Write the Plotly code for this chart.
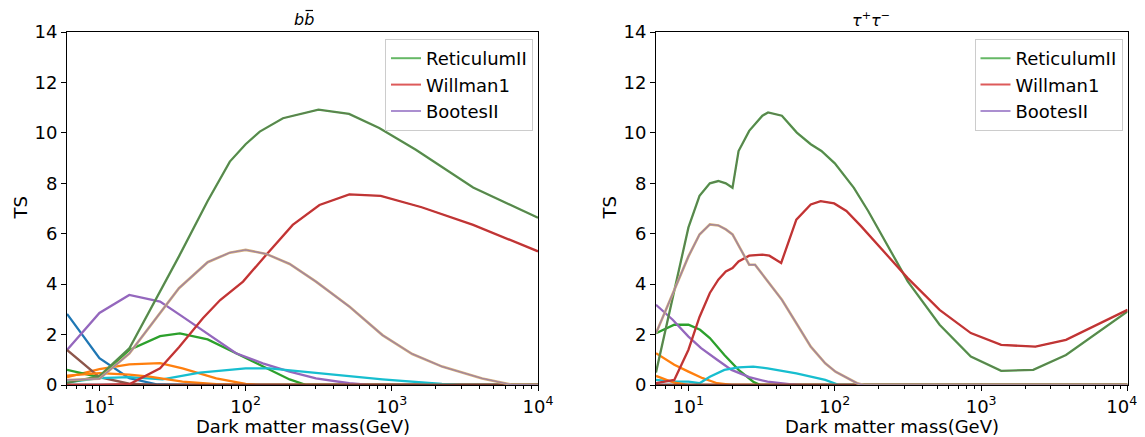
import plotly.graph_objects as go

# ---------------- data: b b-bar channel (left) ----------------
bb_ret_m = [6, 10, 16, 25, 35, 55, 78, 100, 125, 180, 315, 510, 820, 1460, 3600, 10000]
bb_ret_ts = [0.08, 0.35, 1.45, 3.5, 5.1, 7.3, 8.86, 9.55, 10.05, 10.58, 10.92, 10.75, 10.19, 9.33, 7.83, 6.63]

bb_wil_m = [6, 10, 16, 26, 35, 51, 67, 96, 138, 210, 320, 512, 840, 1600, 3600, 10000]
bb_wil_ts = [0.0, 0.0, 0.03, 0.66, 1.5, 2.65, 3.37, 4.1, 5.16, 6.35, 7.14, 7.56, 7.5, 7.05, 6.35, 5.3]

bb_boo_m = [6, 10, 16, 25, 35, 55, 78, 100, 138, 200, 303, 512, 863, 1380, 2210, 4150, 6500, 10000]
bb_boo_ts = [0.2, 0.25, 1.25, 2.7, 3.84, 4.87, 5.25, 5.36, 5.2, 4.8, 4.1, 3.11, 1.98, 1.23, 0.73, 0.26, 0.02, 0.0]

bb_blue_m = [6, 10, 16, 25, 40, 10000]
bb_blue_ts = [2.82, 1.06, 0.27, 0.02, 0.0, 0.0]
bb_orange_m = [6, 10, 16, 26, 37, 63, 100, 125, 10000]
bb_orange_ts = [0.31, 0.63, 0.82, 0.87, 0.66, 0.26, 0.04, 0.0, 0.0]
bb_green_m = [6, 10, 16, 26, 35.5, 55, 86, 131, 200, 260, 10000]
bb_green_ts = [0.6, 0.31, 1.39, 1.94, 2.05, 1.81, 1.26, 0.73, 0.22, 0.0, 0.0]
bb_purple_m = [6, 10, 16, 26, 37, 54, 86, 131, 200, 303, 512, 700, 10000]
bb_purple_ts = [1.39, 2.86, 3.57, 3.31, 2.71, 2.05, 1.26, 0.86, 0.53, 0.26, 0.07, 0.0, 0.0]
bb_brown_m = [6, 10, 16, 25, 10000]
bb_brown_ts = [1.39, 0.31, 0.05, 0.0, 0.0]
bb_cyan_m = [6, 10, 16, 27, 48.6, 100, 146, 303, 863, 2200, 3000, 10000]
bb_cyan_ts = [0.1, 0.27, 0.31, 0.22, 0.49, 0.66, 0.66, 0.49, 0.22, 0.04, 0.0, 0.0]
bb_orange2_m = [6, 10, 16, 22, 37, 63, 100, 10000]
bb_orange2_ts = [0.37, 0.47, 0.41, 0.33, 0.13, 0.03, 0.0, 0.0]
zero_m = [6, 10000]
zero_ts = [0.0, 0.0]

# ---------------- data: tau+ tau- channel (right) ----------------
tt_ret_m = [6, 10, 11.9, 14, 16, 18, 20, 22, 26, 32, 35, 43.5, 55, 68.5, 81, 100, 135, 169,
            315, 520, 850, 1370, 2270, 3800, 10000]
tt_ret_ts = [0.5, 6.25, 7.5, 8.0, 8.09, 8.0, 7.82, 9.28, 10.08, 10.68, 10.81, 10.68, 10.01, 9.55,
             9.28, 8.79, 7.82, 6.9, 4.11, 2.39, 1.13, 0.56, 0.6, 1.19, 2.92]

tt_wil_m = [6, 8, 10, 11.9, 14, 16, 18, 20, 22, 26, 32, 35.7, 43, 54.6, 68.5, 80, 99, 120, 151,
            315, 520, 850, 1370, 2350, 3800, 10000]
tt_wil_ts = [0.07, 0.2, 1.4, 2.7, 3.65, 4.18, 4.5, 4.64, 4.9, 5.13, 5.17, 5.13, 4.84, 6.56, 7.16,
             7.29, 7.2, 6.9, 6.3, 4.24, 2.98, 2.06, 1.59, 1.52, 1.79, 2.98]

tt_boo_m = [6, 10, 11.9, 14, 16, 18, 20, 26, 28.5, 32.8, 43.5, 54.6, 68.5, 86, 101, 142, 158, 10000]
tt_boo_ts = [2.05, 5.1, 5.97, 6.37, 6.33, 6.17, 5.97, 4.77, 4.77, 4.31, 3.38, 2.45, 1.52, 0.86,
             0.53, 0.07, 0.0, 0.0]

tt_green_m = [6, 8, 10, 12, 14, 17.6, 22, 27.7, 31, 10000]
tt_green_ts = [2.05, 2.39, 2.39, 2.19, 1.86, 1.19, 0.6, 0.13, 0.0, 0.0]
tt_purple_m = [6, 7.8, 10, 12.2, 15.7, 19.7, 26, 34.7, 48.8, 60, 10000]
tt_purple_ts = [3.18, 2.59, 1.92, 1.46, 1.0, 0.6, 0.31, 0.13, 0.03, 0.0, 0.0]
tt_orange_m = [6, 8, 10, 12.5, 15.7, 19.7, 10000]
tt_orange_ts = [1.26, 0.8, 0.53, 0.27, 0.07, 0.0, 0.0]
tt_orange2_m = [6, 8, 10, 10000]
tt_orange2_ts = [0.36, 0.09, 0.0, 0.0]
tt_cyan_m = [6, 8, 10, 11.9, 14, 17.6, 22, 27.7, 34.7, 54.6, 86, 107, 10000]
tt_cyan_ts = [0.2, 0.13, 0.13, 0.07, 0.33, 0.6, 0.7, 0.73, 0.66, 0.46, 0.2, 0.0, 0.0]

legend_names = ["ReticulumII", "Willman1", "BootesII"]
legend_colors = ["#66b866", "#dd5a5a", "#ab8fd0"]
xtick_vals = [10, 100, 1000, 10000]
xtick_text = ["10<sup>1</sup>", "10<sup>2</sup>", "10<sup>3</sup>", "10<sup>4</sup>"]
ytick_vals = [0, 2, 4, 6, 8, 10, 12, 14]

BLUE, ORANGE, GREEN, RED = "#1f77b4", "#ff7f0e", "#2ca02c", "#d62728"
PURPLE, BROWN, CYAN = "#9467bd", "#8c564b", "#17becf"

fig = go.Figure()


def line(m, ts, color, width, xa, ya):
    fig.add_trace(go.Scatter(x=m, y=ts, mode="lines", xaxis=xa, yaxis=ya,
                             line=dict(color=color, width=width), showlegend=False,
                             hoverinfo="skip"))


def panel(xa, ya, small, big):
    for m, ts, c in small:
        line(m, ts, c, 2.3, xa, ya)
    (rm, rt), (wm, wt), (bm, bt) = big
    line(rm, rt, "#4c9e48", 2.3, xa, ya)
    line(rm, rt, "#6f6a55", 0.8, xa, ya)
    line(wm, wt, "#cf2e2e", 2.3, xa, ya)
    line(wm, wt, "#a84040", 0.8, xa, ya)
    line(bm, bt, "#d6b07a", 2.6, xa, ya)
    line(bm, bt, "#a0849f", 1.4, xa, ya)


panel("x", "y",
      [(zero_m, zero_ts, "#1f3f66"),
       (bb_blue_m, bb_blue_ts, BLUE),
       (bb_orange_m, bb_orange_ts, ORANGE),
       (bb_green_m, bb_green_ts, GREEN),
       (bb_purple_m, bb_purple_ts, PURPLE),
       (bb_brown_m, bb_brown_ts, BROWN),
       (bb_cyan_m, bb_cyan_ts, CYAN),
       (bb_orange2_m, bb_orange2_ts, ORANGE),
       (zero_m, zero_ts, "#7a3a30")],
      [(bb_ret_m, bb_ret_ts), (bb_wil_m, bb_wil_ts), (bb_boo_m, bb_boo_ts)])

panel("x2", "y2",
      [(zero_m, zero_ts, "#1f3f66"),
       (tt_orange_m, tt_orange_ts, ORANGE),
       (tt_green_m, tt_green_ts, GREEN),
       (tt_purple_m, tt_purple_ts, PURPLE),
       (tt_cyan_m, tt_cyan_ts, CYAN),
       (tt_orange2_m, tt_orange2_ts, ORANGE),
       (zero_m, zero_ts, "#7a3a30")],
      [(tt_ret_m, tt_ret_ts), (tt_wil_m, tt_wil_ts), (tt_boo_m, tt_boo_ts)])

for lg, xa, ya in [("legend", "x", "y"), ("legend2", "x2", "y2")]:
    for name, c in zip(legend_names, legend_colors):
        fig.add_trace(go.Scatter(x=[None], y=[None], mode="lines", name=name, xaxis=xa, yaxis=ya,
                                 line=dict(color=c, width=2), legend=lg, showlegend=True))

# the page body adds an 8px offset; lay the figure out in screen pixels minus that offset
OFF = 8
W, H = 1145, 437 - OFF
FONT = "DejaVu Sans"
L1, R1 = 67 - OFF, 538 - OFF
L2, R2 = 656 - OFF, 1127.5 - OFF
TOP, BOT = 32 - OFF, 385 - OFF
xdom1 = [L1 / W, R1 / W]
xdom2 = [L2 / W, R2 / W]
ydom = [1 - BOT / H, 1 - TOP / H]

minor_vals = [v * 10 ** e for e in range(0, 4) for v in range(2, 10) if 6 <= v * 10 ** e <= 10000]

xaxis_common = dict(type="log", range=[0.7782, 4.0], showgrid=False, zeroline=False, automargin=False,
                    showline=True, linecolor="black", linewidth=1, mirror=True,
                    ticks="outside", ticklen=5, tickcolor="black", tickvals=xtick_vals,
                    tickfont=dict(family=FONT, size=18, color="black"),
                    minor=dict(ticks="outside", ticklen=3, tickcolor="black", tickvals=minor_vals))
yaxis_common = dict(range=[0, 14], showgrid=False, zeroline=False, showline=True, linecolor="black",
                    automargin=False, linewidth=1, mirror=True, ticks="outside", ticklen=5,
                    tickcolor="black", tickvals=ytick_vals,
                    tickfont=dict(family=FONT, size=18, color="black"))

# right panel: keep the last label inside the window
xtick_text2 = xtick_text[:-1] + [xtick_text[-1] + "\u00a0\u00a0"]

legend_common = dict(bgcolor="rgba(255,255,255,0.8)", bordercolor="#cccccc", borderwidth=1,
                     font=dict(family=FONT, size=18, color="black"), xanchor="right", yanchor="top",
                     tracegroupgap=0, itemwidth=30)

lab_font = dict(family=FONT, size=18, color="black")
title_font = dict(family=FONT, size=16, color="black")
ann = []
for L, R in [(L1, R1), (L2, R2)]:
    ann.append(dict(text="Dark matter mass(GeV)", x=(L + R) / 2 / W, y=1 - (426 - OFF) / H, xref="paper",
                    yref="paper", showarrow=False, font=lab_font, xanchor="center", yanchor="middle"))
    ann.append(dict(text="TS", x=(L - 47) / W, y=1 - (TOP + BOT) / 2 / H, xref="paper", yref="paper",
                    showarrow=False, textangle=-90, font=lab_font, xanchor="center", yanchor="middle"))
cx1 = (L1 + R1) / 2
tx0 = cx1 - 11
ann.append(dict(text="<i>bb</i>", x=tx0 / W, y=1 - (19 - OFF) / H, xref="paper", xanchor="left",
                yref="paper", showarrow=False, font=title_font, yanchor="middle"))
ann.append(dict(text="<i>\u03c4</i><sup>+</sup><i>\u03c4</i><sup>\u2212</sup>", x=(L2 + R2) / 2 / W,
                y=1 - (19 - OFF) / H, xref="paper", yref="paper", showarrow=False, yanchor="middle",
                font=title_font))

# macron over the second b of the title
bar = dict(type="line", xref="paper", yref="paper",
           x0=(tx0 + 14) / W, x1=(tx0 + 21.5) / W, y0=1 - (10.5 - OFF) / H, y1=1 - (10.5 - OFF) / H,
           line=dict(color="black", width=1.2))

fig.update_layout(
    width=W, height=H, margin=dict(l=0, r=0, t=0, b=0, autoexpand=False),
    paper_bgcolor="white", plot_bgcolor="white",
    xaxis=dict(domain=xdom1, anchor="y", ticktext=xtick_text, **xaxis_common),
    yaxis=dict(domain=ydom, anchor="x", **yaxis_common),
    xaxis2=dict(domain=xdom2, anchor="y2", ticktext=xtick_text2, **xaxis_common),
    yaxis2=dict(domain=ydom, anchor="x2", **yaxis_common),
    legend=dict(x=(R1 - 5) / W, y=1 - (TOP + 7) / H, **legend_common),
    legend2=dict(x=(R2 - 5) / W, y=1 - (TOP + 7) / H, **legend_common),
    annotations=ann,
    shapes=[bar],
)

fig.write_html("out.html")
